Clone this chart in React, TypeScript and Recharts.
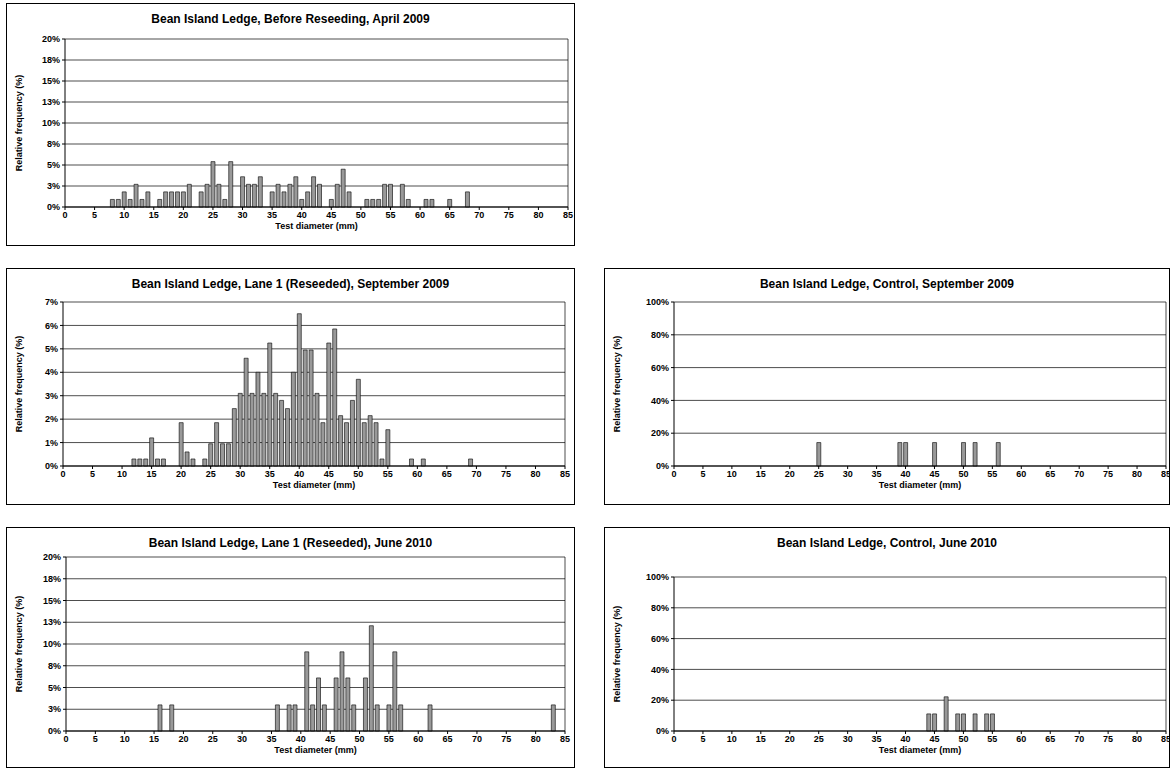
import React from 'react';
import {Bar, BarChart, CartesianGrid, XAxis, YAxis, ReferenceLine} from 'recharts';

// diameters (mm) and relative frequency (%) per panel
const aprilX = [8, 9, 10, 11, 12, 13, 14, 16, 17, 18, 19, 20, 21, 23, 24, 25, 26, 27, 28, 30, 31, 32, 33, 35, 36, 37, 38, 39, 40, 41, 42, 43, 45, 46, 47, 48, 51, 52, 53, 54, 55, 57, 58, 61, 62, 65, 68];
const aprilY = [0.9, 0.9, 1.8, 0.9, 2.7, 0.9, 1.8, 0.9, 1.8, 1.8, 1.8, 1.8, 2.7, 1.8, 2.7, 5.4, 2.7, 0.9, 5.4, 3.6, 2.7, 2.7, 3.6, 1.8, 2.7, 1.8, 2.7, 3.6, 0.9, 1.8, 3.6, 2.7, 0.9, 2.7, 4.5, 1.8, 0.9, 0.9, 0.9, 2.7, 2.7, 2.7, 0.9, 0.9, 0.9, 0.9, 1.8];

const lane1SepX = [12, 13, 14, 15, 16, 17, 20, 21, 22, 24, 25, 26, 27, 28, 29, 30, 31, 32, 33, 34, 35, 36, 37, 38, 39, 40, 41, 42, 43, 44, 45, 46, 47, 48, 49, 50, 51, 52, 53, 54, 55, 59, 61, 69];
const lane1SepY = [0.3, 0.3, 0.3, 1.2, 0.3, 0.3, 1.85, 0.6, 0.3, 0.3, 0.95, 1.85, 0.95, 0.95, 2.45, 3.1, 4.6, 3.1, 4.0, 3.1, 5.25, 3.1, 2.8, 2.45, 4.0, 6.5, 4.95, 4.95, 3.1, 1.85, 5.25, 5.85, 2.15, 1.85, 2.8, 3.7, 1.85, 2.15, 1.85, 0.3, 1.55, 0.3, 0.3, 0.3];

const lane1JunX = [16, 18, 36, 38, 39, 41, 42, 43, 44, 46, 47, 48, 49, 51, 52, 53, 55, 56, 57, 62, 83];
const lane1JunY = [3.0, 3.0, 3.0, 3.0, 3.0, 9.1, 3.0, 6.1, 3.0, 6.1, 9.1, 6.1, 3.0, 6.1, 12.1, 3.0, 3.0, 9.1, 3.0, 3.0, 3.0];

const ctrlSepX = [25, 39, 40, 45, 50, 52, 56];
const ctrlSepY = [14.3, 14.3, 14.3, 14.3, 14.3, 14.3, 14.3];

const ctrlJunX = [44, 45, 47, 49, 50, 52, 54, 55];
const ctrlJunY = [11.1, 11.1, 22.2, 11.1, 11.1, 11.1, 11.1, 11.1];

const xTicks = [0, 5, 10, 15, 20, 25, 30, 35, 40, 45, 50, 55, 60, 65, 70, 75, 80, 85];
const ticks20 = [0, 2.5, 5, 7.5, 10, 12.5, 15, 17.5, 20];
const ticks7 = [0, 1, 2, 3, 4, 5, 6, 7];
const ticks100 = [0, 20, 40, 60, 80, 100];

const font = '"Liberation Sans", Arial, sans-serif';
const tickStyle = {fontSize: 9, fontWeight: 700, fill: '#000', fontFamily: font};

type PanelProps = {
  title: string; xs: number[]; ys: number[]; yTicks: number[];
  box: [number, number, number, number]; plot: [number, number, number, number];
};

function Panel({title, xs, ys, yTicks, box, plot}: PanelProps) {
  const [bl, bt, br, bb] = box;
  const [pl, pt, pr, pb] = plot;
  const w = br - bl, h = bb - bt;
  const data = xs.map((x, i) => ({x, v: ys[i]}));
  const yMax = yTicks[yTicks.length - 1];
  return (
    <div style={{position: 'absolute', left: bl, top: bt, width: w, height: h, border: '1px solid #000', boxSizing: 'border-box', background: '#fff'}}>
      <div style={{position: 'absolute', top: 8, width: '100%', textAlign: 'center', fontFamily: font, fontWeight: 700, fontSize: 12}}>{title}</div>
      <BarChart width={w - 2} height={h - 2} data={data}
        margin={{top: pt - bt - 1, right: br - pr - 1, bottom: 0, left: 0}}>
        <CartesianGrid vertical={false} stroke="#000" strokeWidth={0.7}/>
        <XAxis dataKey="x" type="number" domain={[0, 85]} ticks={xTicks} interval={0}
          tick={tickStyle} stroke="#000" tickSize={3} height={bb - pb - 1}
          label={{value: 'Test diameter (mm)', position: 'insideTop', offset: 16, style: tickStyle}}/>
        <YAxis type="number" domain={[0, yMax]} ticks={yTicks} interval={0}
          tickFormatter={(v: number) => `${Math.round(v)}%`}
          tick={tickStyle} stroke="#000" tickSize={3} width={pl - bl - 1}
          label={{value: 'Relative frequency (%)', angle: -90, position: 'insideLeft', offset: 12, style: {...tickStyle, textAnchor: 'middle'}}}/>
        <ReferenceLine x={85} stroke="#000" strokeWidth={0.7}/>
        <Bar dataKey="v" fill="#999" stroke="#000" strokeWidth={0.6} barSize={4} isAnimationActive={false}/>
      </BarChart>
    </div>
  );
}

export default function App() {
  return (
    <div style={{position: 'absolute', left: 0, top: 0, width: 1173, height: 774, background: '#fff'}}>
      <Panel title="Bean Island Ledge, Before Reseeding, April 2009" xs={aprilX} ys={aprilY} yTicks={ticks20}
        box={[6, 3, 575, 246]} plot={[65, 39, 568, 207]}/>
      <Panel title="Bean Island Ledge, Lane 1 (Reseeded), September 2009" xs={lane1SepX} ys={lane1SepY} yTicks={ticks7}
        box={[6, 268, 575, 505]} plot={[63, 302, 565, 466]}/>
      <Panel title="Bean Island Ledge, Lane 1 (Reseeded), June 2010" xs={lane1JunX} ys={lane1JunY} yTicks={ticks20}
        box={[6, 527, 575, 768]} plot={[66, 557, 565, 731]}/>
      <Panel title="Bean Island Ledge, Control, September 2009" xs={ctrlSepX} ys={ctrlSepY} yTicks={ticks100}
        box={[604, 268, 1170, 505]} plot={[674, 302, 1166, 466]}/>
      <Panel title="Bean Island Ledge, Control, June 2010" xs={ctrlJunX} ys={ctrlJunY} yTicks={ticks100}
        box={[604, 527, 1170, 768]} plot={[674, 577, 1166, 731]}/>
    </div>
  );
}
